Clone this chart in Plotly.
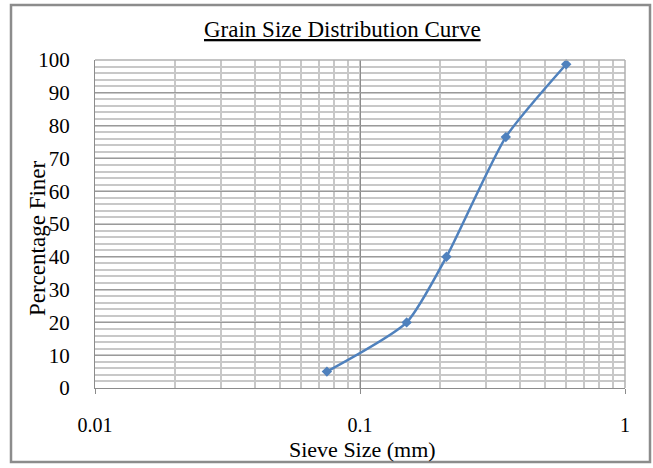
import plotly.graph_objects as go

sieve_size_mm = [0.075, 0.15, 0.212, 0.355, 0.6]
percent_finer = [5, 20, 40, 76.5, 98.7]
y_ticks = [0, 10, 20, 30, 40, 50, 60, 70, 80, 90, 100]
x_ticks = [0.01, 0.1, 1]
x_tick_labels = ["0.01", "0.1", "1"]

FONT = "Liberation Serif"
W, H = 653, 468
L, R, T, B = 95, 28, 60, 80
pw, ph = W - L - R, H - T - B

def px(xp):
    return (xp - L) / pw

def py(yp):
    return (H - B - yp) / ph

fig = go.Figure()
fig.add_trace(go.Scatter(
    x=sieve_size_mm, y=percent_finer, mode="lines+markers",
    line=dict(color="#4F81BD", width=2.5, shape="spline", smoothing=0.6),
    marker=dict(symbol="diamond", size=8, color="#4F81BD"),
    showlegend=False, cliponaxis=False,
))

fig.update_layout(
    width=W, height=H,
    margin=dict(l=L, r=R, t=T, b=B),
    paper_bgcolor="white", plot_bgcolor="white",
    font=dict(family=FONT, size=21, color="black"),
    xaxis=dict(
        type="log", range=[-2, 0],
        tickvals=x_ticks, ticktext=x_tick_labels,
        tickfont=dict(family=FONT, size=20),
        showgrid=True, gridcolor="#8C8C8C", gridwidth=1,
        minor=dict(dtick="D1", showgrid=True, gridcolor="#C8C8C8", gridwidth=1.5, ticks=""),
        showline=True, linecolor="#8C8C8C", linewidth=1,
        ticks="outside", ticklen=5, tickcolor="#8C8C8C",
        ticklabelstandoff=14,
        zeroline=False,
    ),
    yaxis=dict(
        range=[0, 100], tickvals=y_ticks,
        showgrid=True, gridcolor="#9A9A9A", gridwidth=1,
        minor=dict(dtick=2, showgrid=True, gridcolor="#C8C8C8", gridwidth=1.5),
        showline=True, linecolor="#8C8C8C", linewidth=1,
        ticks="", ticklabelstandoff=20,
        zeroline=False,
    ),
    shapes=[
        dict(type="rect", xref="paper", yref="paper",
             x0=px(11), x1=px(650), y0=py(462), y1=py(5),
             line=dict(color="#8C8C8C", width=2.5), layer="above"),
        dict(type="line", xref="paper", yref="paper",
             x0=1, x1=1, y0=0, y1=1,
             line=dict(color="#B0B0B0", width=1.5)),
        dict(type="line", xref="paper", yref="paper",
             x0=0, x1=1, y0=1, y1=1,
             line=dict(color="#B0B0B0", width=1.5)),
    ],
    annotations=[
        dict(text="<u>Grain Size Distribution Curve</u>", xref="paper", yref="paper",
             x=px(342), y=py(30), xanchor="center", yanchor="middle",
             showarrow=False, font=dict(family=FONT, size=23)),
        dict(text="Sieve Size (mm)", xref="paper", yref="paper",
             x=px(362), y=py(449), xanchor="center", yanchor="middle",
             showarrow=False, font=dict(family=FONT, size=22)),
        dict(text="Percentage Finer", xref="paper", yref="paper", textangle=-90,
             x=px(37), y=py(238), xanchor="center", yanchor="middle",
             showarrow=False, font=dict(family=FONT, size=23)),
    ],
)

fig.write_html("out.html", config={"displayModeBar": False},
               post_script="document.body.style.margin='0';document.body.style.padding='0';document.body.style.overflow='hidden';")
